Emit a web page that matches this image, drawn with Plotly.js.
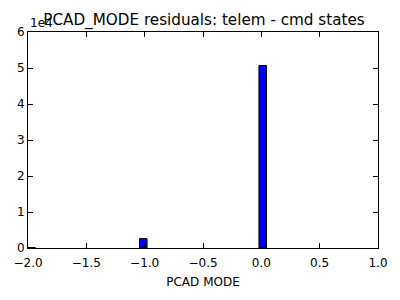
<!DOCTYPE html>
<html>
<head>
<meta charset="utf-8">
<script src="https://cdn.plot.ly/plotly-3.0.1.min.js"></script>
<style>html,body{margin:0;padding:0;background:#fff;}#chart{width:400px;height:300px;}</style>
</head>
<body>
<div id="chart"></div>
<script>
// Histogram bin centers (PCAD MODE residual) and counts
const binCenters = [-1.97, -1.012, 0.012];
const counts = [120, 2600, 50700];
const xTickVals = [-2.0, -1.5, -1.0, -0.5, 0.0, 0.5, 1.0];
const xTickText = ['\u22122.0', '\u22121.5', '\u22121.0', '\u22120.5', '0.0', '0.5', '1.0'];
const yTickVals = [0, 10000, 20000, 30000, 40000, 50000, 60000];
const yTickText = ['0', '1', '2', '3', '4', '5', '6'];

const font = {family: 'DejaVu Sans', size: 12, color: '#000'};

Plotly.newPlot('chart', [{
  type: 'bar',
  x: binCenters,
  y: counts,
  width: 0.065,
  marker: {color: '#0000ff', line: {color: '#000', width: 1}},
  hoverinfo: 'skip'
}], {
  width: 400, height: 300,
  margin: {l: 28, r: 22, t: 32, b: 52},
  paper_bgcolor: '#fff', plot_bgcolor: '#fff',
  font: font,
  showlegend: false,
  title: {text: 'PCAD_MODE residuals: telem - cmd states', font: {family: 'DejaVu Sans', size: 15.2, color: '#000'}, x: 0.51, xanchor: 'center', y: 0.935, yanchor: 'middle'},
  xaxis: {
    range: [-2, 1], tickvals: xTickVals, ticktext: xTickText,
    ticks: 'inside', ticklen: 5, tickcolor: '#000', mirror: 'allticks',
    showline: true, linecolor: '#000', linewidth: 1, showgrid: false, zeroline: false,
    tickfont: font, ticklabelstandoff: 4,
    title: {text: 'PCAD MODE', font: font, standoff: 8}
  },
  yaxis: {
    range: [0, 60000], tickvals: yTickVals, ticktext: yTickText,
    ticks: 'inside', ticklen: 5, tickcolor: '#000', mirror: 'allticks',
    showline: true, linecolor: '#000', linewidth: 1, showgrid: false, zeroline: false,
    tickfont: font
  },
  annotations: [{
    text: '1e4', xref: 'paper', yref: 'paper', x: 0, y: 1, xanchor: 'left', yanchor: 'bottom',
    showarrow: false, font: font, yshift: 0
  }],
  bargap: 0
}, {staticPlot: true});
</script>
</body>
</html>
